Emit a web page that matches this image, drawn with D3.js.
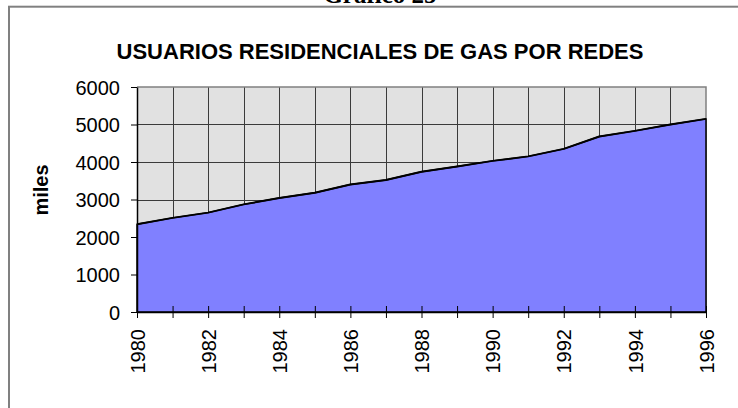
<html>
<head>
<meta http-equiv="Content-Type" content="text/html; charset=utf-8" />
<script src="https://cdn.jsdelivr.net/npm/d3@7/dist/d3.min.js"></script>
<style type="text/css">
body { margin: 0; background: #fff; }
svg { display: block; }
text { font-family: "Liberation Sans", Arial, sans-serif; fill: #000; }
</style>
</head>
<body>
<svg id="chart" width="738" height="408"></svg>
<script type="text/javascript">
	// datos
	var v_Years  = [1980, 1981, 1982, 1983, 1984, 1985, 1986, 1987, 1988,
	                1989, 1990, 1991, 1992, 1993, 1994, 1995, 1996];
	var v_Values = [2340, 2510, 2650, 2870, 3040, 3180, 3400, 3520, 3740,
	                3880, 4030, 4150, 4350, 4680, 4830, 5000, 5150];
	var v_YTicks = [0, 1000, 2000, 3000, 4000, 5000, 6000];
	var v_XLabels = [1980, 1982, 1984, 1986, 1988, 1990, 1992, 1994, 1996];

	var v_Width   = 738;
	var v_Height  = 408;
	var v_Padding = {top: 87, right: 32, bottom: 96, left: 137};

	var v_SVG = d3.select("#chart");

	// marco exterior
	v_SVG.append("rect")
	     .attr("x", 9).attr("y", 6.7)
	     .attr("width", 800).attr("height", 500)
	     .attr("fill", "none")
	     .attr("stroke", "#808080")
	     .attr("stroke-width", 2);

	// titulo superior (cortado por el borde, como en el original)
	v_SVG.append("text")
	     .attr("x", 380).attr("y", 3)
	     .attr("text-anchor", "middle")
	     .style("font-family", "'Liberation Serif', 'Times New Roman', serif")
	     .style("font-weight", "bold")
	     .style("font-size", "25px")
	     .text("Gráfico 25");

	var v_xScale = d3.scaleLinear()
	                 .domain([d3.min(v_Years), d3.max(v_Years)])
	                 .range([v_Padding.left, v_Width - v_Padding.right]);
	var v_yScale = d3.scaleLinear()
	                 .domain([0, 6000])
	                 .range([v_Height - v_Padding.bottom, v_Padding.top]);

	var x0 = v_xScale.range()[0], x1 = v_xScale.range()[1];
	var y0 = v_yScale.range()[0], y1 = v_yScale.range()[1];

	// fondo del area de trazado
	v_SVG.append("rect")
	     .attr("x", x0).attr("y", y1)
	     .attr("width", x1 - x0).attr("height", y0 - y1)
	     .attr("fill", "#e1e1e1");

	// lineas de division
	v_SVG.append("g").selectAll("line").data(v_YTicks.slice(1, -1))
	     .enter().append("line")
	     .attr("x1", x0).attr("x2", x1)
	     .attr("y1", function(d) { return Math.round(v_yScale(d)) + 0.5; })
	     .attr("y2", function(d) { return Math.round(v_yScale(d)) + 0.5; })
	     .attr("stroke", "#3a3a3a").attr("stroke-width", 1);

	v_SVG.append("g").selectAll("line").data(v_Years.slice(1, -1))
	     .enter().append("line")
	     .attr("x1", function(d) { return Math.round(v_xScale(d)) + 0.5; })
	     .attr("x2", function(d) { return Math.round(v_xScale(d)) + 0.5; })
	     .attr("y1", y0).attr("y2", y1)
	     .attr("stroke", "#3a3a3a").attr("stroke-width", 1);

	// borde superior y derecho
	v_SVG.append("path")
	     .attr("d", "M" + x0 + "," + y1 + "H" + x1 + "V" + y0)
	     .attr("fill", "none")
	     .attr("stroke", "#808080")
	     .attr("stroke-width", 1.5);

	// area
	var v_Area = d3.area()
	               .x(function(d, i) { return v_xScale(v_Years[i]); })
	               .y0(y0)
	               .y1(function(d) { return v_yScale(d); });
	v_SVG.append("path")
	     .datum(v_Values)
	     .attr("d", v_Area)
	     .attr("fill", "#8080ff")
	     .attr("stroke", "#000")
	     .attr("stroke-width", 1.5)
	     .attr("stroke-linejoin", "round");

	var v_Line = d3.line()
	               .x(function(d, i) { return v_xScale(v_Years[i]); })
	               .y(function(d) { return v_yScale(d); });
	v_SVG.append("path")
	     .datum(v_Values)
	     .attr("d", v_Line)
	     .attr("fill", "none")
	     .attr("stroke", "#000")
	     .attr("stroke-width", 2)
	     .attr("stroke-linejoin", "round");

	// eje y
	var v_YAxis = d3.axisLeft(v_yScale)
	                .tickValues(v_YTicks)
	                .tickSizeInner(6)
	                .tickSizeOuter(0)
	                .tickPadding(11)
	                .tickFormat(d3.format("d"));
	var v_GYAxis = v_SVG.append("g")
	     .attr("transform", "translate(" + x0 + ",0)")
	     .call(v_YAxis);
	v_GYAxis.select(".domain").attr("stroke", "#000").attr("stroke-width", 1.5);
	v_GYAxis.selectAll(".tick line").attr("stroke", "#000").attr("x2", 0).attr("x1", -6);
	v_GYAxis.selectAll("text")
	     .style("font-size", "20px")
	     .attr("dy", "0.36em");

	// eje x
	var v_XAxis = d3.axisBottom(v_xScale)
	                .tickValues(v_Years)
	                .tickSizeInner(6)
	                .tickSizeOuter(0)
	                .tickFormat(function(d) { return v_XLabels.indexOf(d) >= 0 ? d : ""; });
	var v_GXAxis = v_SVG.append("g")
	     .attr("transform", "translate(0," + y0 + ")")
	     .call(v_XAxis);
	v_GXAxis.select(".domain").attr("stroke", "#000").attr("stroke-width", 1.5);
	v_GXAxis.selectAll(".tick line").attr("stroke", "#000").attr("y1", -6).attr("y2", 6);
	v_GXAxis.selectAll("text")
	     .style("font-size", "20px")
	     .attr("text-anchor", "end")
	     .attr("transform", "rotate(-90)")
	     .attr("x", -17)
	     .attr("y", 0)
	     .attr("dy", "0.36em");

	// titulo del grafico
	v_SVG.append("text")
	     .attr("x", 380).attr("y", 59)
	     .attr("text-anchor", "middle")
	     .style("font-weight", "bold")
	     .style("font-size", "22px")
	     .text("USUARIOS RESIDENCIALES DE GAS POR REDES");

	// titulo eje y
	v_SVG.append("text")
	     .attr("transform", "translate(48,190) rotate(-90)")
	     .attr("text-anchor", "middle")
	     .style("font-weight", "bold")
	     .style("font-size", "20px")
	     .text("miles");
</script>
</body>
</html>
